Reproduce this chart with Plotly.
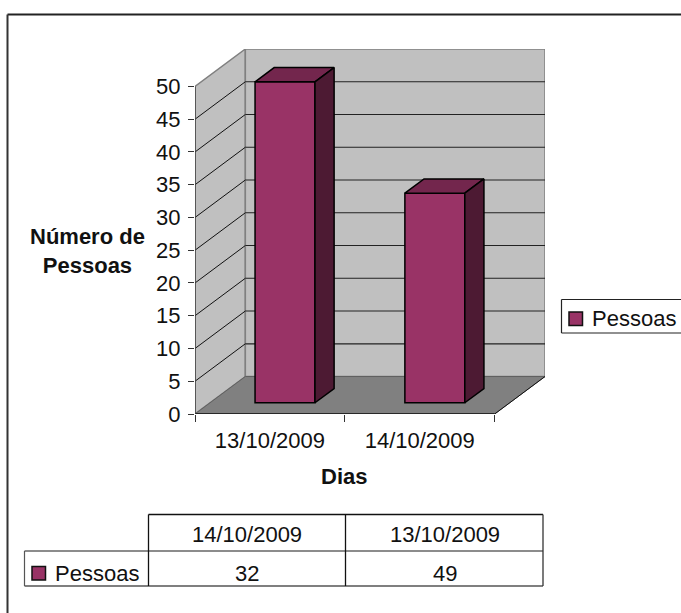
import plotly.graph_objects as go

categories = ["13/10/2009", "14/10/2009"]
values = [49, 32]
series_name = "Pessoas"
table_dates = ["14/10/2009", "13/10/2009"]
table_values = ["32", "49"]
y_ticks = list(range(0, 55, 5))

W, H = 681, 613
FONT = "Liberation Sans, Arial, sans-serif"
FS = 22
FRONT, TOP, SIDE = "#993366", "#73264D", "#4D1A33"


def px(x):
    return x / W


def py(y):
    return 1 - y / H


# projection of the pseudo-3D box, in data units
x_end = 2.0
depth_x, depth_y = 0.336, 5.72
x_max, y_max = x_end + depth_x, 50 + depth_y
bar_width = 0.4
f0, f1 = 0.30, 0.68  # depth fractions of bar front and back
centers = [0.5 + i for i in range(len(categories))]

fig = go.Figure()

# front faces
fig.add_trace(go.Bar(
    x=[c + f0 * depth_x for c in centers], y=values,
    base=[f0 * depth_y] * len(values), width=bar_width, name=series_name,
    marker=dict(color=FRONT, line=dict(color="#000000", width=1.5)),
    showlegend=False, hoverinfo="skip"))

# top and side faces
for c, v in zip(centers, values):
    l, r = c - bar_width / 2, c + bar_width / 2
    ax, ay = f0 * depth_x, f0 * depth_y
    bx, by = f1 * depth_x, f1 * depth_y
    fig.add_trace(go.Scatter(
        x=[l + ax, r + ax, r + bx, l + bx, l + ax],
        y=[v + ay, v + ay, v + by, v + by, v + ay],
        mode="lines", fill="toself", fillcolor=TOP,
        line=dict(color="#000000", width=1.5), showlegend=False, hoverinfo="skip"))
    fig.add_trace(go.Scatter(
        x=[r + ax, r + bx, r + bx, r + ax, r + ax],
        y=[v + ay, v + by, by, ay, v + ay],
        mode="lines", fill="toself", fillcolor=SIDE,
        line=dict(color="#000000", width=1.5), showlegend=False, hoverinfo="skip"))

shapes = []


def poly(xs, ys, fill, color, width):
    path = "M" + "L".join(f"{a},{b}" for a, b in zip(xs, ys)) + "Z"
    shapes.append(dict(type="path", xref="x", yref="y", path=path, fillcolor=fill,
                       line=dict(color=color, width=width), layer="below"))


def seg(x0, y0, x1, y1, color, width):
    shapes.append(dict(type="line", xref="x", yref="y", x0=x0, y0=y0, x1=x1, y1=y1,
                       line=dict(color=color, width=width), layer="below"))


poly([0, depth_x, depth_x, 0], [0, depth_y, y_max, 50], "#C0C0C0", "#808080", 1.5)
poly([depth_x, x_max, x_max, depth_x], [depth_y, depth_y, y_max, y_max], "#C0C0C0", "#808080", 1.5)
poly([0, depth_x, x_max, x_end], [0, depth_y, depth_y, 0], "#808080", "#606060", 1)
for t in y_ticks[1:-1]:
    seg(0, t, depth_x, t + depth_y, "#111111", 1)
    seg(depth_x, t + depth_y, x_max, t + depth_y, "#222222", 1.2)
seg(x_end, 0, x_max, depth_y, "#111111", 1)
seg(0, 0, x_end, 0, "#111111", 1.3)
seg(0, 0, 0, 50, "#444444", 1.5)


def pline(x0, y0, x1, y1, color="#111111", width=1.3):
    shapes.append(dict(type="line", xref="paper", yref="paper", x0=px(x0), y0=py(y0),
                       x1=px(x1), y1=py(y1), line=dict(color=color, width=width)))


def swatch(x0, y0, size):
    shapes.append(dict(type="rect", xref="paper", yref="paper", x0=px(x0), x1=px(x0 + size),
                       y0=py(y0 + size), y1=py(y0), fillcolor=FRONT,
                       line=dict(color="#111111", width=1.5)))


# outer frame
pline(7.5, 14.5, 681, 14.5, "#222222", 2)
pline(7.5, 14.5, 7.5, 613, "#333333", 2)

# legend box, running off the right edge as in the source
pline(561.5, 299.5, 681, 299.5, "#222222", 1.2)
pline(561.5, 333, 681, 333, "#222222", 1.2)
pline(561.5, 299.5, 561.5, 333, "#222222", 1.2)
swatch(569, 312, 13.5)

# data table
pline(148.5, 514.5, 543, 514.5)
pline(24.5, 551, 543, 551, "#666666", 1.6)
pline(24.5, 586, 543, 586, "#555555", 1.5)
pline(24.5, 551, 24.5, 586, "#555555", 1.2)
pline(148.5, 514.5, 148.5, 586)
pline(345.5, 514.5, 345.5, 586)
pline(543, 514.5, 543, 586, "#333333", 1.3)
swatch(32, 566.5, 13.5)

annotations = [
    dict(text=series_name, x=px(590), y=py(318), xanchor="left"),
    dict(text=series_name, x=px(52.5), y=py(573), xanchor="left"),
    dict(text=table_dates[0], x=px(247), y=py(534)),
    dict(text=table_dates[1], x=px(444.5), y=py(534)),
    dict(text=table_values[0], x=px(247), y=py(573)),
    dict(text=table_values[1], x=px(444.5), y=py(573)),
    dict(text="<b>Dias</b>", x=px(344), y=py(476)),
    dict(text="<b>Número de<br>Pessoas</b>", x=px(87), y=py(251)),
]
for a in annotations:
    a.update(xref="paper", yref="paper", showarrow=False, font=dict(family=FONT, size=FS, color="#111111"))
    a.setdefault("xanchor", "center")
    a.setdefault("yanchor", "middle")

fig.update_layout(
    width=W, height=H, autosize=False,
    margin=dict(l=0, r=0, t=0, b=0, autoexpand=False),
    paper_bgcolor="white", plot_bgcolor="rgba(0,0,0,0)",
    font=dict(family=FONT, size=FS, color="#111111"),
    shapes=shapes, annotations=annotations,
    barmode="overlay",
    showlegend=False,
    xaxis=dict(domain=[px(195), px(545)], range=[0, x_max], showgrid=False, zeroline=False,
               showline=False, tickmode="array", tickvals=centers, ticktext=categories,
               ticks="", tickfont=dict(family=FONT, size=FS, color="#111111"),
               ticklabelstandoff=11,
               minor=dict(tickmode="array", tickvals=[0, 1, 2], ticks="outside", ticklen=7,
                          tickcolor="#333333", tickwidth=1.3, showgrid=False)),
    yaxis=dict(domain=[py(414), py(49)], range=[0, y_max], showgrid=False, zeroline=False,
               showline=False, tickmode="array", tickvals=y_ticks, ticks="outside", ticklen=6,
               tickcolor="#333333", tickwidth=1.3,
               tickfont=dict(family=FONT, size=FS, color="#111111"), ticklabelstandoff=3),
)

fig.write_html("out.html", config={"displayModeBar": False},
               post_script="document.body.style.margin='0';document.documentElement.style.overflow='hidden';")
